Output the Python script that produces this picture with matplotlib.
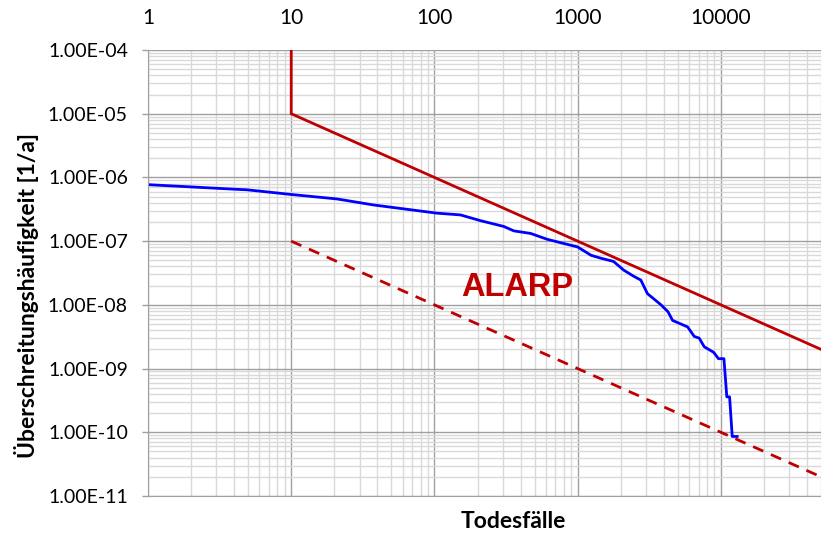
import matplotlib
matplotlib.use("Agg")
import matplotlib.pyplot as plt
import numpy as np
from matplotlib.ticker import LogLocator, NullFormatter, FixedLocator

plt.rcParams['font.family'] = ['Lato', 'DejaVu Sans']

# F-N curve of the plant (cumulative frequency over number of fatalities)
fn_deaths = [1, 4.2, 4.9, 10, 20.8, 37.5, 104, 152, 209, 305, 358, 470, 612, 1000,
             1240, 1450, 1780, 2100, 2470, 2760, 3070, 3820, 4270, 4600, 5860,
             6510, 7060, 7650, 8900, 9620, 10500, 11000, 11500, 12000, 13000]
fn_freq = [7.7e-7, 6.5e-7, 6.4e-7, 5.4e-7, 4.6e-7, 3.7e-7, 2.75e-7, 2.58e-7,
           2.1e-7, 1.7e-7, 1.45e-7, 1.32e-7, 1.07e-7, 8.1e-8, 6.0e-8, 5.4e-8,
           4.8e-8, 3.5e-8, 2.8e-8, 2.45e-8, 1.5e-8, 1.0e-8, 7.8e-9, 5.7e-9,
           4.5e-9, 3.2e-9, 3.0e-9, 2.2e-9, 1.8e-9, 1.43e-9, 1.43e-9, 3.6e-10,
           3.6e-10, 8.6e-11, 8.6e-11]

# upper limit (intolerable) and lower limit (broadly acceptable)
upper_n = [10, 10, 50000]
upper_f = [1e-4, 1e-5, 2e-9]
lower_n = [10, 50000]
lower_f = [1e-7, 2e-11]

x_ticks = [1, 10, 100, 1000, 10000]
y_ticks = [1e-11, 1e-10, 1e-9, 1e-8, 1e-7, 1e-6, 1e-5, 1e-4]

red = "#c00000"

fig = plt.figure(figsize=(8.21, 5.34), dpi=100)
ax = fig.add_axes([148/821, 1 - 496/534, 1 - 148/821, (496 - 50)/534])

ax.set_xscale('log')
ax.set_yscale('log')
ax.set_xlim(1, 50000)
ax.set_ylim(1e-11, 1e-4)

ax.plot(upper_n, upper_f, color=red, linewidth=2.0, solid_joinstyle='miter')
ax.plot(lower_n, lower_f, color=red, linewidth=2.0, linestyle=(0, (4, 3)))
ax.plot(fn_deaths, fn_freq, color="#0000ff", linewidth=2.0)

ax.text(380, 1.84e-8, "ALARP", color=red, fontsize=23.5, fontweight='bold',
        family='Liberation Sans', ha='center', va='center')

# grid
ax.xaxis.set_major_locator(FixedLocator(x_ticks))
ax.xaxis.set_minor_locator(LogLocator(base=10, subs=np.arange(2, 10), numticks=20))
ax.yaxis.set_major_locator(FixedLocator(y_ticks))
ax.yaxis.set_minor_locator(LogLocator(base=10, subs=np.arange(2, 10), numticks=20))
ax.xaxis.set_minor_formatter(NullFormatter())
ax.yaxis.set_minor_formatter(NullFormatter())
ax.grid(True, which='major', color='#a0a0a0', linewidth=1.0)
ax.grid(True, which='minor', color='#d9d9d9', linewidth=1.0)
ax.set_axisbelow(True)

ax.xaxis.tick_top()
ax.xaxis.set_major_formatter(plt.FuncFormatter(lambda v, p: f"{v:g}"))
ax.tick_params(axis='x', which='both', length=0, pad=15.5, labelsize=15)
ax.tick_params(axis='y', which='major', direction='out', length=4.5, width=1,
               color='#a0a0a0', pad=10, labelsize=14)
ax.tick_params(axis='y', which='minor', length=0)
ax.yaxis.set_major_formatter(plt.FuncFormatter(lambda v, p: f"{v:.2E}"))

for s in ['top', 'right']:
    ax.spines[s].set_visible(False)
ax.spines['left'].set_color('#a0a0a0')
ax.spines['bottom'].set_color('#a0a0a0')

fig.text(513/821, 1 - 521/534, "Todesfälle", ha='center', va='center',
         fontsize=16.5, fontweight='bold')
fig.text(27/821, 1 - 296/534, "Überschreitungshäufigkeit [1/a]", ha='center',
         va='center', rotation=90, fontsize=16.5, fontweight='bold')

fig.savefig("out.png", dpi=100)
